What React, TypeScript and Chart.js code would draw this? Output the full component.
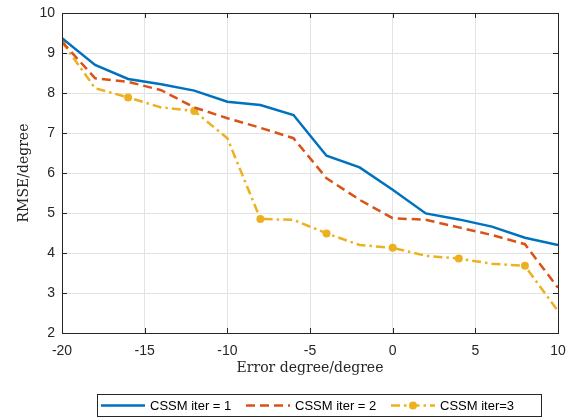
import React, { useEffect, useRef } from "react";
import { Chart, registerables } from "chart.js";

Chart.register(...registerables);

const xValues = [-20, -18, -16, -14, -12, -10, -8, -6, -4, -2, 0, 2, 4, 6, 8, 10];
const iter1 = [9.37, 8.7, 8.35, 8.22, 8.06, 7.78, 7.7, 7.45, 6.43, 6.14, 5.58, 4.99, 4.84, 4.66, 4.38, 4.2];
const iter2 = [9.28, 8.37, 8.28, 8.07, 7.64, 7.37, 7.13, 6.87, 5.87, 5.33, 4.87, 4.83, 4.64, 4.45, 4.22, 3.13];
const iter3 = [9.28, 8.12, 7.89, 7.64, 7.55, 6.87, 4.85, 4.83, 4.49, 4.2, 4.13, 3.93, 3.86, 3.73, 3.68, 2.55];
const seriesNames = ["CSSM iter = 1", "CSSM iter = 2", "CSSM iter=3"];
const xTitle = "Error degree/degree";
const yTitle = "RMSE/degree";

const COLORS = ["#0072BD", "#D95319", "#EDB120"];
const DASHES = [[], [9, 5], [9, 4, 2.5, 4]];
const SANS = "Arial, 'Liberation Sans', sans-serif";
const SERIF = "'DejaVu Serif', serif";

const boxTicksPlugin = {
  id: "boxTicks",
  afterDatasetsDraw(chart: any) {
    const { ctx, chartArea: a, scales } = chart;
    ctx.save();
    ctx.strokeStyle = "#262626";
    ctx.lineWidth = 1;
    ctx.setLineDash([]);
    ctx.strokeRect(Math.round(a.left) + 0.5, Math.round(a.top) + 0.5, Math.round(a.right - a.left), Math.round(a.bottom - a.top));
    const len = 5;
    ctx.beginPath();
    scales.x.ticks.forEach((t: any) => {
      const px = Math.round(scales.x.getPixelForValue(t.value)) + 0.5;
      ctx.moveTo(px, a.bottom);
      ctx.lineTo(px, a.bottom - len);
      ctx.moveTo(px, a.top);
      ctx.lineTo(px, a.top + len);
    });
    scales.y.ticks.forEach((t: any) => {
      const py = Math.round(scales.y.getPixelForValue(t.value)) + 0.5;
      ctx.moveTo(a.left, py);
      ctx.lineTo(a.left + len, py);
      ctx.moveTo(a.right, py);
      ctx.lineTo(a.right - len, py);
    });
    ctx.stroke();
    ctx.restore();
  },
};

const legendPlugin = {
  id: "boxLegend",
  afterDraw(chart: any) {
    const { ctx } = chart;
    const left = 97.5, top = 394.5, width = 444, height = 22;
    ctx.save();
    ctx.fillStyle = "#ffffff";
    ctx.fillRect(left, top, width, height);
    ctx.strokeStyle = "#262626";
    ctx.lineWidth = 1;
    ctx.strokeRect(left, top, width, height);
    const cy = top + height / 2;
    const starts = [101, 246, 391];
    ctx.font = `13px ${SANS}`;
    ctx.textBaseline = "middle";
    ctx.textAlign = "left";
    chart.data.datasets.forEach((ds: any, i: number) => {
      const x0 = starts[i];
      const x1 = x0 + 44;
      ctx.strokeStyle = COLORS[i];
      ctx.lineWidth = 2.5;
      ctx.setLineDash(DASHES[i]);
      ctx.beginPath();
      ctx.moveTo(x0, cy);
      ctx.lineTo(x1, cy);
      ctx.stroke();
      ctx.setLineDash([]);
      if (i === 2) {
        ctx.fillStyle = COLORS[i];
        ctx.beginPath();
        ctx.arc((x0 + x1) / 2, cy, 4, 0, Math.PI * 2);
        ctx.fill();
      }
      ctx.fillStyle = "#000000";
      ctx.fillText(ds.label, x1 + 5, cy + 0.5);
    });
    ctx.restore();
  },
};

const zeroPad = (s: any) => {
  s.paddingTop = 0;
  s.paddingBottom = 0;
  s.paddingLeft = 0;
  s.paddingRight = 0;
};

export default function App() {
  const ref = useRef<HTMLCanvasElement | null>(null);

  useEffect(() => {
    document.body.style.margin = "0";
    const canvas = ref.current;
    if (!canvas) return;
    const series = [iter1, iter2, iter3];
    const chart = new Chart(canvas, {
      type: "scatter",
      data: {
        datasets: series.map((vals, i) => ({
          label: seriesNames[i],
          data: xValues.map((x, j) => ({ x, y: vals[j] })),
          showLine: true,
          borderColor: COLORS[i],
          backgroundColor: COLORS[i],
          borderWidth: 2.5,
          borderDash: DASHES[i],
          pointRadius: i === 2 ? xValues.map((_, j) => (j % 2 === 0 ? 4 : 0)) : 0,
          pointHoverRadius: 0,
          pointBorderWidth: 0,
          tension: 0,
        })),
      },
      options: {
        animation: false,
        responsive: false,
        devicePixelRatio: 1,
        layout: { padding: { top: 13, right: 12, bottom: 33, left: 0 } },
        plugins: { legend: { display: false }, tooltip: { enabled: false } },
        scales: {
          x: {
            type: "linear",
            min: -20,
            max: 10,
            afterFit: (s: any) => { s.height = 52; zeroPad(s); },
            border: { display: false },
            grid: { color: "#e3e3e3", lineWidth: 1, drawTicks: false },
            ticks: { stepSize: 5, padding: 10, color: "#262626", font: { family: SANS, size: 14 } },
            title: { display: true, text: xTitle, color: "#262626", font: { family: SERIF, size: 14 }, padding: { top: 0, bottom: 8 } },
          },
          y: {
            type: "linear",
            min: 2,
            max: 10,
            afterFit: (s: any) => { s.width = 62; zeroPad(s); },
            border: { display: false },
            grid: { color: "#e3e3e3", lineWidth: 1, drawTicks: false },
            ticks: { stepSize: 1, padding: 7, color: "#262626", font: { family: SANS, size: 14 } },
            title: { display: true, text: yTitle, color: "#262626", font: { family: SERIF, size: 14 }, padding: { top: 16, bottom: 0 } },
          },
        },
      },
      plugins: [boxTicksPlugin, legendPlugin],
    });
    return () => chart.destroy();
  }, []);

  return (
    <div style={{ width: 570, height: 418, background: "#ffffff" }}>
      <canvas ref={ref} width={570} height={418} style={{ display: "block" }} />
    </div>
  );
}
